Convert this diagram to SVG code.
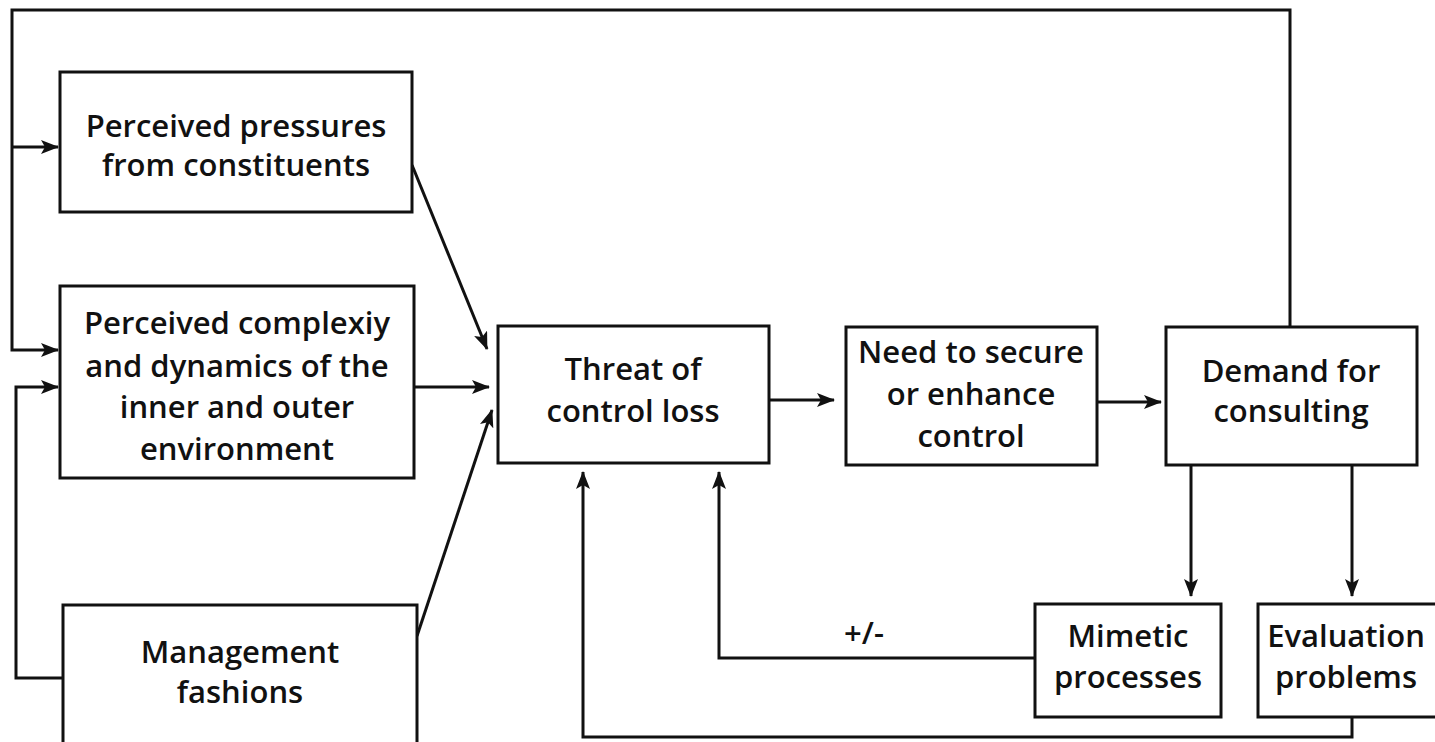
<svg xmlns="http://www.w3.org/2000/svg" width="1435" height="742" viewBox="0 0 1435 742">
<style>
.box{fill:#fff;stroke:#111;stroke-width:3}
.ln{fill:none;stroke:#111;stroke-width:3}
.arr{marker-end:url(#ah)}
text{font-family:"Open Sans","Noto Sans","Liberation Sans",sans-serif;font-size:31px;fill:#111;text-anchor:middle;font-weight:600}
</style>
<defs>
<marker id="ah" viewBox="0 0 18 14" refX="17" refY="7" markerWidth="18" markerHeight="14" markerUnits="userSpaceOnUse" orient="auto">
<path d="M0,0 L18,7 L0,14 L4,7 Z" fill="#111"/>
</marker>
</defs>
<rect width="1435" height="742" fill="#fff"/>
<g id="connectors">
<path class="ln arr" d="M1290,327 V10 H12 V350 H58"/>
<path class="ln arr" d="M12,147 H58"/>
<path class="ln arr" d="M62,678 H16 V387 H58"/>
<path class="ln arr" d="M412,165 L487,349"/>
<path class="ln arr" d="M414,387 L489,387"/>
<path class="ln arr" d="M417,636 L492,410"/>
<path class="ln arr" d="M769,400 L834,400"/>
<path class="ln arr" d="M1097,402 L1161,402"/>
<path class="ln arr" d="M1191,465 V596"/>
<path class="ln arr" d="M1352,465 V596"/>
<path class="ln arr" d="M1035,658 H719 V472"/>
<path class="ln arr" d="M1352,717 V737 H583 V472"/>
<text x="864" y="644">+/-</text>
</g>
<g id="pressures">
<rect class="box" x="60" y="72" width="352" height="140"/>
<text x="236" y="137">Perceived pressures</text>
<text x="236" y="176">from constituents</text>
</g>
<g id="complexity">
<rect class="box" x="60" y="286" width="354" height="192"/>
<text x="237" y="334">Perceived complexiy</text>
<text x="237" y="377">and dynamics of the</text>
<text x="237" y="418">inner and outer</text>
<text x="237" y="460">environment</text>
</g>
<g id="fashions">
<rect class="box" x="63" y="605" width="354" height="140"/>
<text x="240" y="663">Management</text>
<text x="240" y="703">fashions</text>
</g>
<g id="threat">
<rect class="box" x="498" y="326" width="271" height="137"/>
<text x="633" y="380">Threat of</text>
<text x="633" y="422">control loss</text>
</g>
<g id="need">
<rect class="box" x="846" y="327" width="251" height="138"/>
<text x="971" y="363">Need to secure</text>
<text x="971" y="405">or enhance</text>
<text x="971" y="447">control</text>
</g>
<g id="demand">
<rect class="box" x="1166" y="327" width="251" height="138"/>
<text x="1291" y="382">Demand for</text>
<text x="1291" y="422">consulting</text>
</g>
<g id="mimetic">
<rect class="box" x="1035" y="604" width="186" height="113"/>
<text x="1128" y="647">Mimetic</text>
<text x="1128" y="688">processes</text>
</g>
<g id="evaluation">
<rect class="box" x="1258" y="604" width="180" height="113"/>
<text x="1346" y="647">Evaluation</text>
<text x="1346" y="688">problems</text>
</g>
</svg>
